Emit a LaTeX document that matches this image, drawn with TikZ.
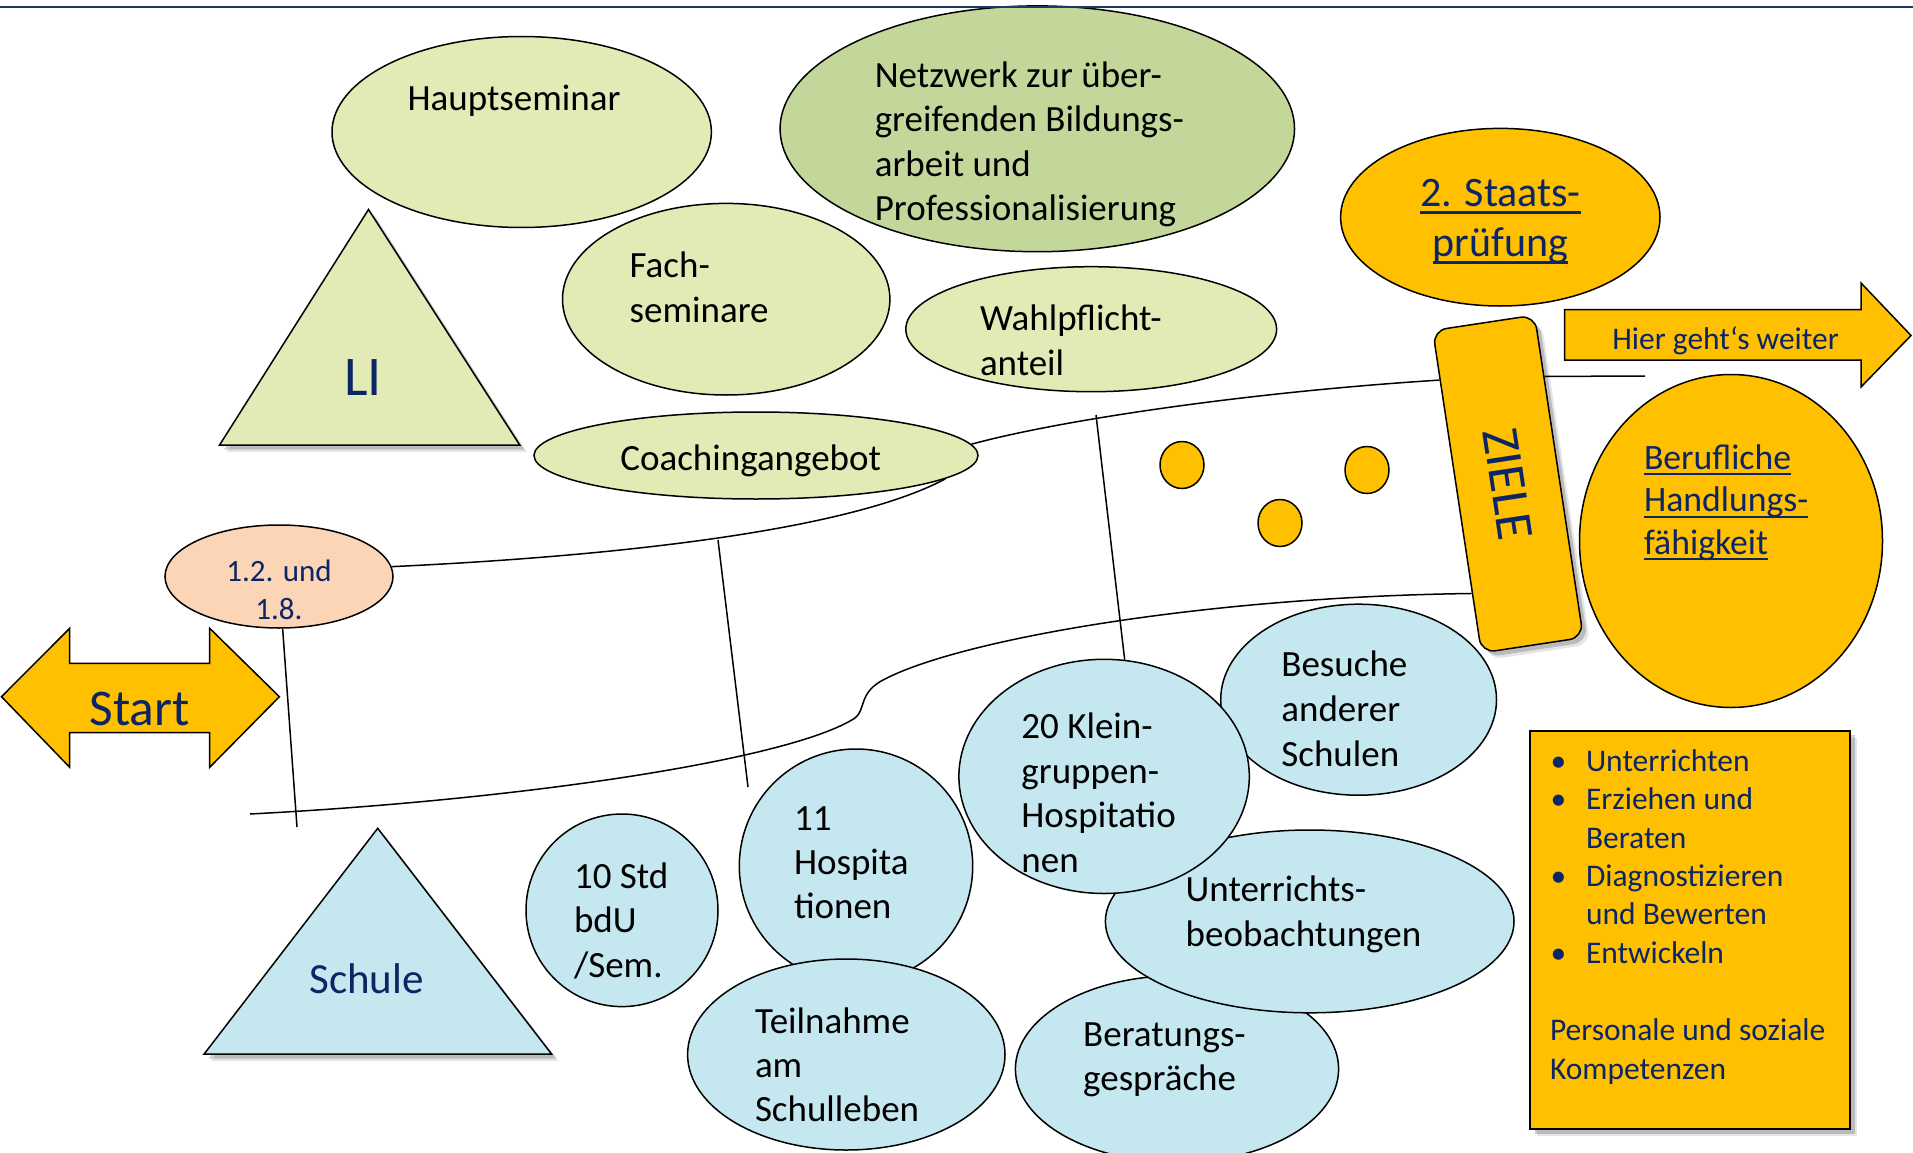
\documentclass[tikz,border=0pt]{standalone}
\usepackage{fontspec}
\setmainfont{Carlito}
\usetikzlibrary{shapes.geometric,shadows,calc}
\pgfdeclarelayer{back}
\pgfdeclarelayer{bg}
\pgfdeclarelayer{front}
\pgfsetlayers{back,bg,main,front}
\definecolor{lgreen}{HTML}{E2EBB5}
\definecolor{mgreen}{HTML}{C4D79B}
\definecolor{lblue}{HTML}{C5E7F0}
\definecolor{gold}{HTML}{FFC000}
\definecolor{peach}{HTML}{FBD5B5}
\definecolor{navy}{HTML}{0B2565}
\definecolor{topline}{HTML}{1F3864}
\newcommand\fs[2]{\fontsize{#1}{#2}\selectfont}
\newcommand\myul[1]{\setbox0=\hbox{#1}\rlap{\rule[-0.18em]{\wd0}{0.065em}}\box0}
\newcommand\lnsL[1]{\begin{tabular}[t]{@{}l@{}}#1\end{tabular}}
\newcommand\lnsC[1]{\begin{tabular}[t]{@{}c@{}}#1\end{tabular}}
\begin{document}
\begin{tikzpicture}[x=1pt,y=-1pt,
  bub/.style={ellipse, draw=black, line width=1.5pt, inner sep=0pt},
  txt/.style={anchor=base west, inner sep=0pt, outer sep=0pt, text=black},
  ctxt/.style={anchor=base, inner sep=0pt, outer sep=0pt},
  road/.style={draw=black, line width=1.5pt},
  shd/.style={drop shadow={shadow xshift=7pt, shadow yshift=-7pt, fill=black, opacity=0.10},
              drop shadow={shadow xshift=4.5pt, shadow yshift=-4.5pt, fill=black, opacity=0.18}},
  outl/.style={draw=black, line width=1.5pt, line join=miter}]

\begin{pgfonlayer}{back}
\fill[white] (0,0) rectangle (1913,1153);
\end{pgfonlayer}
\useasboundingbox (0,0) rectangle (1913,1153);

% ---------- green (LI) side ----------
\node[bub, fill=lgreen, minimum width=379.4pt, minimum height=191pt] (haupt) at (521.7,132) {};
\node[txt, font=\fs{37}{44.5}] (hauptT) at (407.6,110.5) {Hauptseminar};
\node[bub, fill=mgreen, minimum width=514.4pt, minimum height=245.8pt] (netz) at (1037.3,128.8) {};
\node[txt, font=\fs{37}{44.5}] (netzT) at (874.8,87.4) {\lnsL{Netzwerk zur über-\\greifenden Bildungs-\\arbeit und\\Professionalisierung}};
\node[bub, fill=lgreen, minimum width=327.4pt, minimum height=191.6pt] (fach) at (726.2,299.2) {};
\node[txt, font=\fs{37}{45}] (fachT) at (629.7,277.4) {\lnsL{Fach-\\seminare}};
\node[bub, fill=lgreen, minimum width=370.8pt, minimum height=125pt] (wahl) at (1091.2,329.2) {};
\node[txt, font=\fs{37}{45}] (wahlT) at (980,330.7) {\lnsL{Wahlpflicht-\\anteil}};
\node[bub, fill=lgreen, minimum width=444pt, minimum height=87pt] (coach) at (756,455.5) {};
\node[ctxt, font=\fs{37}{44.5}] (coachT) at (750.7,470.7) {Coachingangebot};

\path[outl, fill=lgreen, shd] (219.6,445) -- (368.5,209.5) -- (519.7,445) -- cycle;
\node[ctxt, text=navy, font=\fs{56}{60}] (liT) at (363,395) {LI};

% ---------- school side ----------
\path[outl, fill=lblue, shd] (204,1054.2) -- (377.7,828.3) -- (551.7,1054.2) -- cycle;
\node[ctxt, text=navy, font=\fs{43}{48}] (schuleT) at (366.5,993) {Schule};

\node[bub, fill=lblue, minimum width=275.8pt, minimum height=191pt] (besuch) at (1358.6,699.7) {};
\node[txt, font=\fs{37}{45}] (besuchT) at (1281.4,676) {\lnsL{Besuche\\anderer\\Schulen}};
\node[bub, fill=lblue, minimum width=323.2pt, minimum height=186.6pt] (berat) at (1177,1069) {};
\node[txt, font=\fs{37}{44.1}] (beratT) at (1083.2,1046.2) {\lnsL{Beratungs-\\gespräche}};
\node[bub, fill=lblue, minimum width=408.6pt, minimum height=182.8pt] (unter) at (1309.7,921.4) {};
\node[txt, font=\fs{37}{44.5}] (unterT) at (1185.7,901.6) {\lnsL{Unterrichts-\\beobachtungen}};
\node[bub, fill=lblue, minimum width=290.4pt, minimum height=234.2pt] (klein) at (1104.1,776.4) {};
\node[txt, font=\fs{37}{44.7}] (kleinT) at (1021.4,738.3) {\lnsL{20 Klein-\\gruppen-\\Hospitatio\\nen}};
\node[bub, fill=lblue, minimum width=233.4pt, minimum height=234pt] (hosp) at (856,866) {};
\node[txt, font=\fs{37}{44.2}] (hospT) at (794,830.5) {\lnsL{11\\Hospita\\tionen}};
\node[bub, fill=lblue, minimum width=317.4pt, minimum height=191pt] (teil) at (846.3,1054.5) {};
\node[txt, font=\fs{37}{44.2}] (teilT) at (755,1033.5) {\lnsL{Teilnahme\\am\\Schulleben}};
\node[bub, fill=lblue, minimum width=192pt, minimum height=192.6pt] (std) at (622,910.3) {};
\node[txt, font=\fs{37}{44.7}] (stdT) at (574,888) {\lnsL{10 Std\\bdU\\/Sem.}};

% ---------- goals ----------
\node[bub, fill=gold, minimum width=319.4pt, minimum height=177.6pt] (staats) at (1500.3,217.2) {};
\node[ctxt, text=navy, font=\fs{42}{50}] (staatsT) at (1500.5,206.5) {\lnsC{\myul{2. Staats-}\\\myul{prüfung}}};

\path[outl, fill=gold] (1564.7,309.5) -- (1861,309.5) -- (1861,283) -- (1911,335.5) -- (1861,387) -- (1861,360) -- (1564.7,360) -- cycle;
\node[ctxt, text=navy, font=\fs{31.5}{36}] (hierT) at (1725.5,349.5) {Hier geht‘s weiter};

\node[bub, fill=gold, minimum width=303pt, minimum height=333pt] (beruf) at (1731,541) {};
\node[txt, text=navy, font=\fs{35.7}{42.5}] (berufT) at (1644,469) {\lnsL{\myul{Berufliche}\\\myul{Handlungs-}\\\myul{fähigkeit}}};

\node[draw=black, line width=1.5pt, fill=gold, rounded corners=14pt, minimum width=326pt, minimum height=103pt, inner sep=0pt, rotate=-81.4, shd, text=navy, font=\fs{53}{58}] (ziele) at (1508,484) {ZIELE};

\node[bub, fill=gold, minimum width=44pt, minimum height=47pt] (dot1) at (1182,465) {};
\node[bub, fill=gold, minimum width=44pt, minimum height=47pt] (dot2) at (1280,523) {};
\node[bub, fill=gold, minimum width=44pt, minimum height=47pt] (dot3) at (1367,470) {};

% ---------- start ----------
\node[bub, fill=peach, minimum width=228pt, minimum height=103pt] (e12) at (279,576.5) {};
\node[ctxt, text=navy, font=\fs{31}{38}] (e12T) at (279,581) {\lnsC{1.2. und\\1.8.}};

\path[outl, fill=gold] (1.5,696.7) -- (69.7,628.3) -- (69.7,663.3) -- (209.7,663.3) -- (209.7,628.3) -- (279.4,696.7) -- (209.7,767.3) -- (209.7,732.7) -- (69.7,732.7) -- (69.7,767.3) -- cycle;
\node[ctxt, text=navy, font=\fs{51.5}{55}] (startT) at (139.5,725) {Start};

% ---------- competences box ----------
\node[draw=black, line width=1.8pt, fill=gold, shd, minimum width=320pt, minimum height=398.3pt, inner sep=0pt, anchor=north west] (box) at (1529.3,730) {};
\node[txt, text=navy, font=\fs{31.5}{38.3}] (boxT) at (1550.7,771.5) {\begin{tabular}[t]{@{}p{35.3pt}@{}l@{}}•&Unterrichten\\•&Erziehen und\\&Beraten\\•&Diagnostizieren\\&und Bewerten\\•&Entwickeln\end{tabular}};
\node[txt, text=navy, font=\fs{31.5}{39.4}] (boxT2) at (1550,1040.5) {\lnsL{Personale und soziale\\Kompetenzen}};

% ---------- road ----------
\begin{pgfonlayer}{bg}
\coordinate (zTop) at ($(ziele.south west)!0.155!(ziele.south east)$);
\coordinate (zBot) at ($(ziele.south west)!0.814!(ziele.south east)$);
\coordinate (zRight) at ($(ziele.north west)!0.192!(ziele.north east)$);
\coordinate (freeR) at (1645,376);
\coordinate (roadL) at (250,814);
\coordinate (va) at (297,827);
\coordinate (vb1) at (718,540);
\coordinate (vb2) at (748,787);
\coordinate (vc) at (1096,415);
\draw[road] (e12.5) .. controls (620,556) and (850,530) .. (coach.-7);
\draw[road] (coach.3) .. controls (1060,420) and (1250,392) .. (zTop);
\draw[road] (roadL) .. controls (520,800) and (790,760) .. (855,718)
   .. controls (866,710) and (858,692) .. (885,679)
   .. controls (960,640) and (1200,597) .. (zBot);
\draw[road] (zRight) -- (freeR);
\draw[road] (e12.-86) -- (va);
\draw[road] (vb1) -- (vb2);
\draw[road] (vc) -- (klein.80);
\end{pgfonlayer}

\begin{pgfonlayer}{front}
\coordinate (tl1) at (0,7);
\coordinate (tl2) at (1913,7);
\draw[topline, line width=2.6pt] (tl1) -- (tl2);
\end{pgfonlayer}
\end{tikzpicture}
\end{document}
